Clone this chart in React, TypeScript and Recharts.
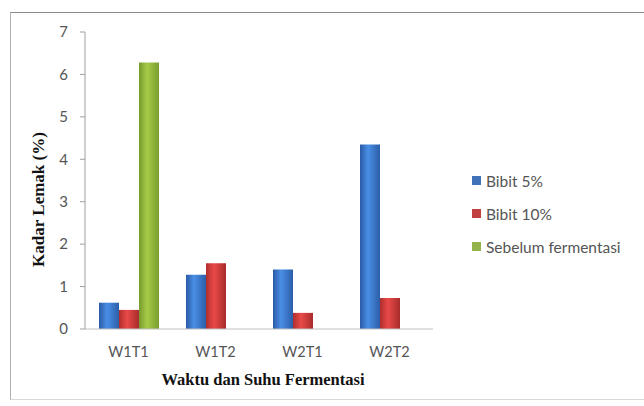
import { BarChart, Bar, XAxis, YAxis } from "recharts";

const categories = ["W1T1", "W1T2", "W2T1", "W2T2"];
const bibit5 = [0.62, 1.28, 1.4, 4.35];
const bibit10 = [0.45, 1.55, 0.38, 0.73];
const sebelum: (number | null)[] = [6.28, null, null, null];
const yTicks = [0, 1, 2, 3, 4, 5, 6, 7];

const series = [
  { key: "b5", name: "Bibit 5%", grad: "gBlue", swatch: "#3f72b8" },
  { key: "b10", name: "Bibit 10%", grad: "gRed", swatch: "#c0413f" },
  { key: "seb", name: "Sebelum fermentasi", grad: "gGreen", swatch: "#93b44a" },
];

const data = categories.map((c, i) => ({
  name: c,
  b5: bibit5[i],
  b10: bibit10[i],
  seb: sebelum[i],
}));

function Legend() {
  return (
    <div style={{ position: "absolute", left: 472, top: 164 }}>
      {series.map((s) => (
        <div
          key={s.key}
          style={{
            display: "flex",
            alignItems: "center",
            height: 33,
            fontFamily: "Lato, sans-serif",
            fontSize: 15.5,
            color: "#555",
          }}
        >
          <span
            style={{
              width: 9,
              height: 9,
              background: s.swatch,
              marginRight: 5,
              display: "inline-block",
            }}
          />
          {s.name}
        </div>
      ))}
    </div>
  );
}

// y title sits a bit below the plot's middle in the original
function YTitle(props: any) {
  const vb = props.viewBox || { x: 0, y: 0, width: 0, height: 0 };
  const x = 38;
  const y = vb.y + vb.height / 2 + 19;
  return (
    <text
      x={x}
      y={y}
      transform={`rotate(-90, ${x}, ${y})`}
      textAnchor="middle"
      dominantBaseline="central"
      fontFamily="'Liberation Serif', serif"
      fontWeight="bold"
      fontSize={17}
      fill="#111"
    >
      Kadar Lemak (%)
    </text>
  );
}

export default function App() {
  return (
    <div
      style={{
        position: "absolute",
        left: 0,
        top: 0,
        width: 644,
        height: 406,
        background: "#fff",
      }}
    >
      <div
        style={{
          position: "absolute",
          left: 10,
          top: 12,
          width: 640,
          height: 386,
          borderTop: "1px solid #8a8a8a",
          borderLeft: "1px solid #b0b0b0",
          borderBottom: "1px solid #d8d8d8",
        }}
      />
      <BarChart
        width={644}
        height={406}
        data={data}
        margin={{ top: 32, right: 211, left: 0, bottom: 0 }}
        barGap={0}
        barSize={20}
      >
        <defs>
          <linearGradient id="gBlue" x1="0" y1="0" x2="1" y2="0">
            <stop offset="0%" stopColor="#2a5aa6" />
            <stop offset="40%" stopColor="#4a8ee6" />
            <stop offset="100%" stopColor="#2c5ea8" />
          </linearGradient>
          <linearGradient id="gRed" x1="0" y1="0" x2="1" y2="0">
            <stop offset="0%" stopColor="#b02e2e" />
            <stop offset="40%" stopColor="#e84a48" />
            <stop offset="100%" stopColor="#a82c2c" />
          </linearGradient>
          <linearGradient id="gGreen" x1="0" y1="0" x2="1" y2="0">
            <stop offset="0%" stopColor="#769a2c" />
            <stop offset="40%" stopColor="#a6ca48" />
            <stop offset="100%" stopColor="#7a9e2e" />
          </linearGradient>
        </defs>
        <XAxis
          dataKey="name"
          tickLine={false}
          axisLine={{ stroke: "#c0c0c0" }}
          tickMargin={12}
          tick={{ fontSize: 14.5, fill: "#555", fontFamily: "Lato, sans-serif" }}
          height={77}
          label={{
            value: "Waktu dan Suhu Fermentasi",
            position: "insideTop",
            offset: 44,
            dx: 4,
            style: {
              fontFamily: "'Liberation Serif', serif",
              fontWeight: "bold",
              fontSize: 16.5,
              fill: "#111",
            },
          }}
        />
        <YAxis
          width={85}
          domain={[0, 7]}
          ticks={yTicks}
          interval={0}
          tickSize={5}
          tickMargin={12}
          axisLine={{ stroke: "#a0a0a0" }}
          tickLine={{ stroke: "#a0a0a0" }}
          tick={{ fontSize: 15, fill: "#555", fontFamily: "Lato, sans-serif" }}
          label={<YTitle />}
        />
        {series.map((s) => (
          <Bar
            key={s.key}
            dataKey={s.key}
            name={s.name}
            fill={`url(#${s.grad})`}
            isAnimationActive={false}
          />
        ))}
      </BarChart>
      <Legend />
    </div>
  );
}
